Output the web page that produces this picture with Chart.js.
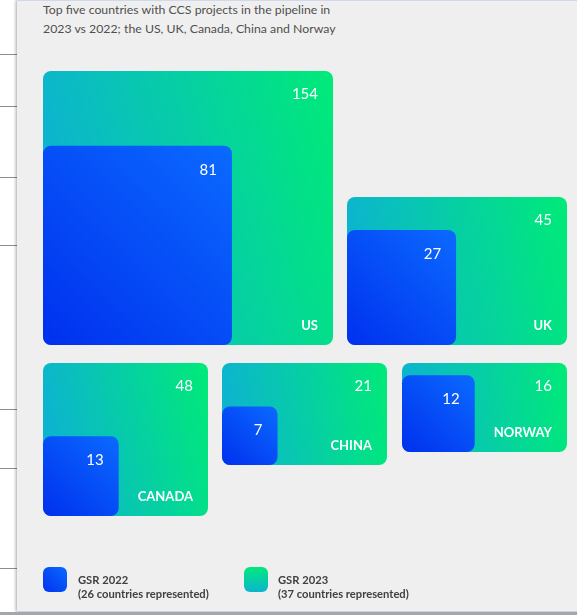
<!DOCTYPE html>
<html>
<head>
<meta charset="utf-8">
<style>
  body { margin: 0; width: 577px; height: 615px; position: relative; overflow: hidden; background: #fff; font-family: Lato, "Open Sans", sans-serif; }
  .tick { position: absolute; left: 0; width: 17px; height: 1px; background: #8c8c8c; }
  #panel { position: absolute; left: 17px; top: 0; width: 560px; height: 612px; box-sizing: border-box;
           background: #efefef; border-top: 1px solid #cfd9ea; border-bottom: 1px solid #c7d2e6;
           box-shadow: -1px 0 3px rgba(0,0,0,0.35); }
  #base { position: absolute; left: 0; top: 612px; width: 577px; height: 3px; background: #a3a6aa; }
  #title { position: absolute; left: 43px; top: 1px; font-size: 12.3px; line-height: 18.5px; color: #505050; }
  #myChart { position: absolute; left: 0; top: 0; }
  .key { position: absolute; top: 567px; width: 24px; height: 25px; border-radius: 6px; }
  .keytext { position: absolute; top: 573px; font-size: 11.2px; font-weight: bold; line-height: 13.6px; color: #404040; }
</style>
</head>
<body>
  <div class="tick" style="top:54px"></div>
  <div class="tick" style="top:106px"></div>
  <div class="tick" style="top:177px"></div>
  <div class="tick" style="top:245px"></div>
  <div class="tick" style="top:409px"></div>
  <div class="tick" style="top:468px"></div>
  <div class="tick" style="top:568px"></div>
  <div id="panel"></div>
  <div id="base"></div>

  <div id="title">Top five countries with CCS projects in the pipeline in<br>2023 vs 2022; the US, UK, Canada, China and Norway</div>

  <canvas id="myChart" width="577" height="615"></canvas>

  <div class="key" style="left:43px; background:linear-gradient(to top right, #0033ee, #0b69ff);"></div>
  <div class="keytext" id="key0" style="left:78px"></div>
  <div class="key" style="left:244px; background:linear-gradient(to top, #0bb6cc, #00e87c);"></div>
  <div class="keytext" id="key1" style="left:278px"></div>

  <script src="https://cdn.jsdelivr.net/npm/chart.js"></script>
  <script>
    // data
    var countries = ["US", "UK", "CANADA", "CHINA", "NORWAY"];
    var gsr2022 = [81, 27, 13, 7, 12];
    var gsr2023 = [154, 45, 48, 21, 16];
    var seriesNames = ["GSR 2022", "GSR 2023"];
    var seriesNotes = ["(26 countries represented)", "(37 countries represented)"];

    // layout of the 2023 cells, in axis units (x 0..524, y 0..445 from the top)
    var cellX = [0, 304, 0, 179, 359];
    var cellY = [0, 126, 292, 292, 292];
    var cellW = [290, 220, 165, 165, 165];
    var cellH = [274, 148, 153, 102, 89];
    // 2022 boxes: area per project, height/width ratio
    var areaPerProject = 465;
    var aspect = 1.055;

    document.getElementById("key0").innerHTML = seriesNames[0] + "<br>" + seriesNotes[0];
    document.getElementById("key1").innerHTML = seriesNames[1] + "<br>" + seriesNotes[1];

    function roundRect(ctx, x, y, w, h, r) {
      ctx.beginPath();
      ctx.moveTo(x + r, y);
      ctx.arcTo(x + w, y, x + w, y + h, r);
      ctx.arcTo(x + w, y + h, x, y + h, r);
      ctx.arcTo(x, y + h, x, y, r);
      ctx.arcTo(x, y, x + w, y, r);
      ctx.closePath();
    }

    var boxPlugin = {
      id: "boxes",
      afterDatasetsDraw(chart) {
        var ctx = chart.ctx;
        var xs = chart.scales.x;
        var ys = chart.scales.y;
        ctx.save();
        for (var i = 0; i < countries.length; i++) {
          // outer (2023)
          var x0 = xs.getPixelForValue(cellX[i]);
          var x1 = xs.getPixelForValue(cellX[i] + cellW[i]);
          var y0 = ys.getPixelForValue(cellY[i]);
          var y1 = ys.getPixelForValue(cellY[i] + cellH[i]);
          var g = ctx.createLinearGradient(x0, y0 + (y1 - y0) * 0.25, x1, y0);
          g.addColorStop(0, "#0cb4cf");
          g.addColorStop(1, "#00ea78");
          ctx.fillStyle = g;
          roundRect(ctx, x0, y0, x1 - x0, y1 - y0, 8);
          ctx.fill();

          // inner (2022), sized from its value, anchored bottom-left
          var w = Math.sqrt(areaPerProject * gsr2022[i] / aspect);
          var h = w * aspect;
          var ix1 = xs.getPixelForValue(cellX[i] + w);
          var iy0 = ys.getPixelForValue(cellY[i] + cellH[i] - h);
          var gb = ctx.createLinearGradient(x0, y1, ix1, iy0);
          gb.addColorStop(0, "#0030ee");
          gb.addColorStop(1, "#0b6aff");
          ctx.fillStyle = gb;
          roundRect(ctx, x0, iy0, ix1 - x0, y1 - iy0, 8);
          ctx.fill();

          ctx.fillStyle = "#ffffff";
          ctx.textAlign = "right";
          ctx.textBaseline = "middle";
          ctx.font = "15px Lato";
          ctx.fillText(String(gsr2023[i]), x1 - 15, y0 + 23);
          ctx.fillText(String(gsr2022[i]), ix1 - 15, iy0 + 24);
          ctx.font = "bold 13px Lato";
          ctx.fillText(countries[i], x1 - 15, y1 - 19);
        }
        ctx.restore();
      }
    };

    var config = {
      type: "scatter",
      data: {
        datasets: [
          { label: seriesNames[0], data: [] },
          { label: seriesNames[1], data: [] }
        ]
      },
      options: {
        responsive: false,
        animation: false,
        devicePixelRatio: 1,
        layout: { padding: { left: 43, top: 71, right: 10, bottom: 99 } },
        plugins: { legend: { display: false }, tooltip: { enabled: false } },
        scales: {
          x: { type: "linear", min: 0, max: 524, display: false },
          y: { type: "linear", min: 0, max: 445, reverse: true, display: false }
        }
      },
      plugins: [boxPlugin]
    };

    const myChart = new Chart(document.getElementById("myChart"), config);
  </script>
</body>
</html>
